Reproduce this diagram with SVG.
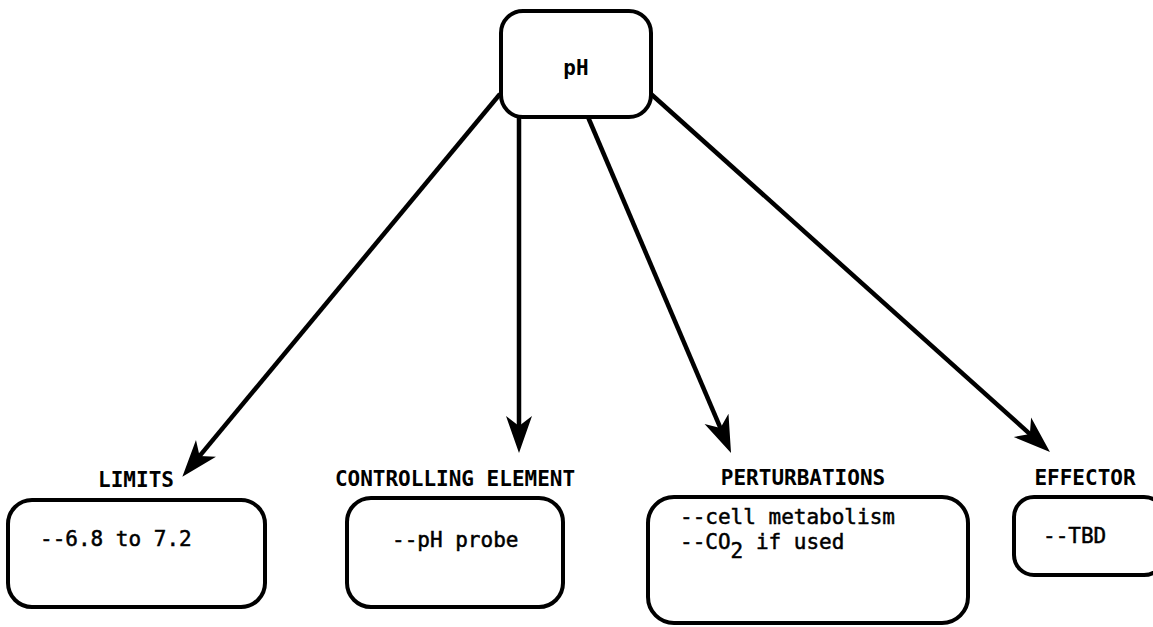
<svg xmlns="http://www.w3.org/2000/svg" width="1153" height="627" viewBox="0 0 1153 627">
  <style>
    .box { fill: #fff; stroke: #000; stroke-width: 4; }
    .head { font-family: "DejaVu Sans Mono", "Liberation Mono", monospace; font-weight: bold; font-size: 21px; fill: #000; }
    .body { font-family: "DejaVu Sans Mono", "Liberation Mono", monospace; font-size: 21px; fill: #000; stroke: #000; stroke-width: 0.5; }
    .wire { fill: none; stroke: #000; stroke-width: 4.5; }
  </style>
  <defs>
    <marker id="arrow" markerUnits="userSpaceOnUse" viewBox="-20 -15 44 30" markerWidth="44" markerHeight="30" refX="0" refY="0" orient="auto" overflow="visible">
      <path d="M22,0 L-15,-13 L-5,0 L-15,13 Z" fill="#000"/>
    </marker>
  </defs>
  <rect width="1153" height="627" fill="#fff"/>

  <!-- connectors from the pH node to each attribute -->
  <g id="connectors">
    <line class="wire" x1="500" y1="94" x2="196.4" y2="459.9" marker-end="url(#arrow)"/>
    <line class="wire" x1="519" y1="117" x2="519" y2="431" marker-end="url(#arrow)"/>
    <line class="wire" x1="588" y1="117" x2="722.4" y2="432.7" marker-end="url(#arrow)"/>
    <line class="wire" x1="651" y1="94" x2="1033.6" y2="437.3" marker-end="url(#arrow)"/>
  </g>

  <g id="ph">
    <rect class="box" x="501" y="11" width="150" height="106" rx="22"/>
    <text class="head" x="576" y="75" text-anchor="middle">pH</text>
  </g>

  <g id="limits">
    <text class="head" x="136" y="487" text-anchor="middle">LIMITS</text>
    <rect class="box" x="8" y="500" width="257" height="107" rx="24"/>
    <text class="body" x="40" y="546">--6.8 to 7.2</text>
  </g>

  <g id="controlling-element">
    <text class="head" x="455" y="486" text-anchor="middle">CONTROLLING ELEMENT</text>
    <rect class="box" x="347" y="498" width="216" height="109" rx="24"/>
    <text class="body" x="392" y="547">--pH probe</text>
  </g>

  <g id="perturbations">
    <text class="head" x="803" y="485" text-anchor="middle">PERTURBATIONS</text>
    <rect class="box" x="648" y="497" width="320" height="126" rx="26"/>
    <text class="body" x="680" y="524">--cell metabolism</text>
    <text class="body" x="680" y="549">--CO<tspan dy="9">2</tspan><tspan dy="-9"> if used</tspan></text>
  </g>

  <g id="effector">
    <text class="head" x="1085" y="485" text-anchor="middle">EFFECTOR</text>
    <rect class="box" x="1014" y="497" width="150" height="78" rx="20"/>
    <text class="body" x="1043" y="543">--TBD</text>
  </g>
</svg>
